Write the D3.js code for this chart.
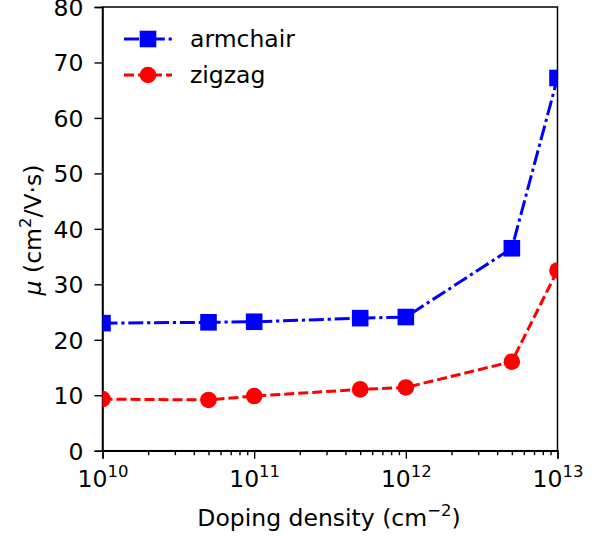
<!DOCTYPE html>
<html>
<head>
<meta charset="utf-8">
<script src="https://cdn.jsdelivr.net/npm/d3@7"></script>
<style>
  body { margin: 0; background: #fff; }
  svg text { font-family: "DejaVu Sans", sans-serif; fill: #000; }
</style>
</head>
<body>
<div id="container"></div>
<script>
const density = [1e10, 5e10, 1e11, 5e11, 1e12, 5e12, 1e13];
const armchair = [23.0, 23.15, 23.25, 23.9, 24.1, 36.5, 67.2];
const zigzag = [9.3, 9.15, 9.85, 11.05, 11.4, 16.05, 32.5];
const yTicks = [0, 10, 20, 30, 40, 50, 60, 70, 80];
const xTicks = [10, 11, 12, 13];

const W = 608, H = 536;
const m = {left: 102.5, right: 557.5, top: 7, bottom: 450.7};
const FS = 23.5, SUP = 16.5;

const svg = d3.select('#container').append('svg')
    .attr('width', W).attr('height', H);

const x = d3.scaleLog().domain([1e10, 1e13]).range([m.left, m.right]);
const y = d3.scaleLinear().domain([0, 80]).range([m.bottom, m.top]);

svg.append('defs').append('clipPath').attr('id', 'clip')
    .append('rect')
    .attr('x', m.left).attr('y', m.top)
    .attr('width', m.right - m.left).attr('height', m.bottom - m.top);

// y axis
const yAxis = svg.append('g').attr('transform', `translate(${m.left},0)`)
    .call(d3.axisLeft(y).tickValues(yTicks).tickSize(8).tickPadding(11).tickFormat(d3.format('d')));
yAxis.selectAll('text').attr('font-size', FS).attr('dy', '0.36em');

// x axis with minor ticks
const minor = [];
for (let e = 10; e < 13; e++) for (let k = 2; k <= 9; k++) minor.push(k * Math.pow(10, e));
const xg = svg.append('g').attr('transform', `translate(0,${m.bottom})`);
xg.call(d3.axisBottom(x).tickValues(minor).tickSize(4.5).tickFormat(''));
xg.select('.domain').remove();
const xMaj = svg.append('g').attr('transform', `translate(0,${m.bottom})`)
    .call(d3.axisBottom(x).tickValues(xTicks.map(e => Math.pow(10, e))).tickSize(8).tickFormat(''));
xMaj.selectAll('.tick').each(function (d, i) {
    const t = d3.select(this).append('text')
        .attr('y', 36.5).attr('text-anchor', 'middle').attr('font-size', FS);
    t.append('tspan').text('10');
    t.append('tspan').attr('dy', -10).attr('font-size', SUP).text(xTicks[i]);
});

svg.selectAll('.domain').attr('stroke-width', 1.5);
svg.selectAll('.tick line').attr('stroke-width', 1.4);

// frame
svg.append('rect')
    .attr('x', m.left).attr('y', m.top)
    .attr('width', m.right - m.left).attr('height', m.bottom - m.top)
    .attr('fill', 'none').attr('stroke', '#000').attr('stroke-width', 1.5);

// axis labels
svg.append('text').attr('x', 329).attr('y', 525.5)
    .attr('text-anchor', 'middle').attr('font-size', FS)
    .call(t => {
        t.append('tspan').text('Doping density (cm');
        t.append('tspan').attr('dy', -10).attr('font-size', SUP).text('\u22122');
        t.append('tspan').attr('dy', 10).text(')');
    });
svg.append('text').attr('transform', `translate(41,230) rotate(-90)`)
    .attr('text-anchor', 'middle').attr('font-size', FS)
    .call(t => {
        t.append('tspan').attr('font-style', 'italic').text('\u03bc');
        t.append('tspan').text(' (cm');
        t.append('tspan').attr('dy', -10).attr('font-size', SUP).text('2');
        t.append('tspan').attr('dy', 10).text('/V\u00b7s)');
    });

const series = [
    {name: 'armchair', values: armchair, color: '#0000ff', dash: '15,3.8,3.2,3.8', shape: 'square'},
    {name: 'zigzag', values: zigzag, color: '#ff0000', dash: '10,4', shape: 'circle'}
];

const plot = svg.append('g').attr('clip-path', 'url(#clip)');
const line = d3.line().x((d, i) => x(density[i])).y(d => y(d));

const drawMarker = (g, s, cx, cy) => {
    if (s.shape === 'square') {
        g.append('rect').attr('x', cx - 8.3).attr('y', cy - 8.3)
            .attr('width', 16.6).attr('height', 16.6).attr('fill', s.color);
    } else {
        g.append('circle').attr('cx', cx).attr('cy', cy).attr('r', 8.3).attr('fill', s.color);
    }
};

series.forEach(s => {
    plot.append('path').datum(s.values)
        .attr('d', line).attr('fill', 'none')
        .attr('stroke', s.color).attr('stroke-width', 3)
        .attr('stroke-dasharray', s.dash);
    s.values.forEach((v, i) => drawMarker(plot, s, x(density[i]), y(v)));
});

// legend
series.forEach((s, i) => {
    const ly = 39 + i * 36;
    const g = svg.append('g');
    g.append('line').attr('x1', 124).attr('x2', 172).attr('y1', ly).attr('y2', ly)
        .attr('stroke', s.color).attr('stroke-width', 3).attr('stroke-dasharray', s.dash);
    drawMarker(g, s, 148, ly);
    g.append('text').attr('x', 190).attr('y', ly).attr('dy', '0.33em')
        .attr('font-size', FS).text(s.name);
});
</script>
</body>
</html>
